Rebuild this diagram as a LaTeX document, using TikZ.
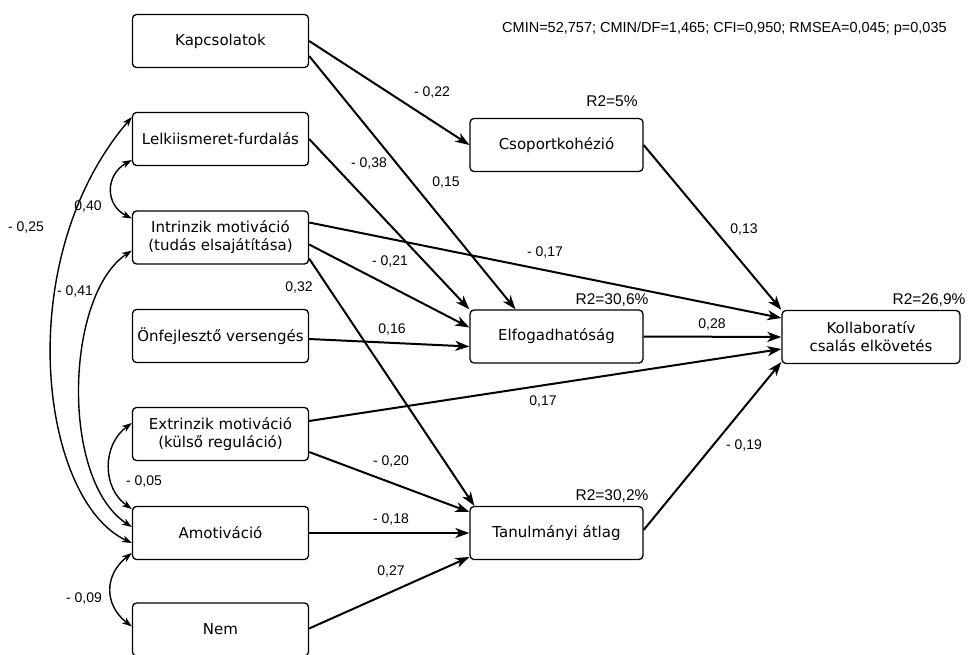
\documentclass[tikz,border=0pt]{standalone}
\usepackage{fontspec}
\setmainfont{Liberation Sans}
\newfontfamily\boxfont{DejaVu Sans}
\usetikzlibrary{arrows.meta}
\begin{document}
\begin{tikzpicture}[x=1pt,y=-1pt,
  box/.style={draw, line width=1.3pt, rounded corners=4pt, minimum width=176pt, minimum height=53pt, inner sep=0pt, align=center, font=\boxfont\fontsize{15}{18}\selectfont},
  midbox/.style={box, minimum width=173pt},
  reg/.style={line width=2pt, -{Stealth[length=14pt,width=10pt,inset=4pt]}},
  cor/.style={line width=1.4pt, {Stealth[length=10pt,width=7pt,inset=3pt]}-{Stealth[length=10pt,width=7pt,inset=3pt]}},
  lab/.style={font=\fontsize{14}{16}\selectfont, inner sep=0pt},
  rsq/.style={font=\fontsize{15.5}{17}\selectfont, inner sep=0pt}]
\useasboundingbox (0,0) rectangle (968,655);

% left boxes
\node[box] (kap)  at (220.5,41)   {Kapcsolatok};
\node[box] (lel)  at (220.5,139)  {Lelkiismeret-furdalás};
\node[box] (intr) at (220.5,237.5){Intrinzik motiváció\\(tudás elsajátítása)};
\node[box] (onf)  at (220.5,336)  {Önfejlesztő versengés};
\node[box] (extr) at (220.5,434)  {Extrinzik motiváció\\(külső reguláció)};
\node[box] (amot) at (220.5,533)  {Amotiváció};
\node[box] (nem)  at (220.5,629.5){Nem};
% middle boxes
\node[midbox] (csop) at (556.5,145)   {Csoportkohézió};
\node[midbox] (elf)  at (556.5,336.5) {Elfogadhatóság};
\node[midbox] (tan)  at (556.5,533)   {Tanulmányi átlag};
% outcome
\node[box, minimum width=178pt] (kol) at (871,337) {Kollaboratív\\csalás elkövetés};

% regressions
\draw[reg] (kap.east) -- (csop.west);
\draw[reg] ([yshift=-15pt]kap.east) -- ([xshift=-41pt]elf.north);
\draw[reg] (lel.east) -- (elf.north west);
\draw[reg] ([yshift=15pt]intr.east) -- ([yshift=19pt]kol.west);
\draw[reg] ([yshift=-7pt]intr.east) -- ([yshift=9pt]elf.west);
\draw[reg] ([yshift=6pt]intr.south east) -- ([xshift=5pt]tan.north west);
\draw[reg] ([yshift=-3pt]onf.east) -- ([yshift=-10pt]elf.west);
\draw[reg] (elf.east) -- (kol.west);
\draw[reg] (csop.east) -- (kol.north west);
\draw[reg] ([yshift=13pt]extr.east) -- ([yshift=-12pt]kol.west);
\draw[reg] ([yshift=-18pt]extr.east) -- ([yshift=21pt]tan.west);
\draw[reg] (amot.east) -- (tan.west);
\draw[reg] ([yshift=1pt]nem.east) -- ([yshift=-24pt]tan.west);
\draw[reg] ([yshift=3pt]tan.east) -- ([yshift=-25pt]kol.west);

% correlations
\draw[cor] ([yshift=22pt]lel.west) .. controls (10,260) and (40,500) .. ([yshift=-10pt]amot.west);
\draw[cor] ([yshift=-13pt]intr.west) .. controls (65,295) and (60,480) .. ([yshift=6pt]amot.west);
\draw[cor] ([yshift=-21pt]lel.west) .. controls (105,175) and (105,205) .. ([yshift=19pt]intr.west);
\draw[cor] ([yshift=11pt]extr.west) .. controls (102,445) and (102,488) .. ([yshift=24pt]amot.west);
\draw[cor] ([yshift=-20pt]amot.west) .. controls (104,575) and (104,605) .. ([yshift=3pt]nem.west);

% path labels
\node[lab] (l1)  at (432,93)  {- 0,22};
\node[lab] (l2)  at (446,183) {0,15};
\node[lab] (l3)  at (369,164) {- 0,38};
\node[lab] (l4)  at (545,253) {- 0,17};
\node[lab] (l5)  at (390,262) {- 0,21};
\node[lab] (l6)  at (299,288) {0,32};
\node[lab] (l7)  at (392,330) {0,16};
\node[lab] (l8)  at (543,402) {0,17};
\node[lab] (l9)  at (712,325) {0,28};
\node[lab] (l10) at (744,230) {0,13};
\node[lab] (l11) at (744,446) {- 0,19};
\node[lab] (l12) at (391,462) {- 0,20};
\node[lab] (l13) at (391,520) {- 0,18};
\node[lab] (l14) at (391,572) {0,27};
\node[lab] (l15) at (144,482) {- 0,05};
\node[lab] (l16) at (84,599)  {- 0,09};
\node[lab] (l17) at (88,207)  {0,40};
\node[lab] (l18) at (26,228)  {- 0,25};
\node[lab] (l19) at (75,292)  {- 0,41};

% R2 labels
\node[rsq] (r1) at (612,101) {R2=5\%};
\node[rsq] (r2) at (612,300) {R2=30,6\%};
\node[rsq] (r3) at (929,300) {R2=26,9\%};
\node[rsq] (r4) at (612,496) {R2=30,2\%};

% fit indices
\node[font=\fontsize{14.5}{16}\selectfont, inner sep=0pt, anchor=west] (fit) at (502,29) {CMIN=52,757; CMIN/DF=1,465; CFI=0,950; RMSEA=0,045; p=0,035};
\end{tikzpicture}
\end{document}
